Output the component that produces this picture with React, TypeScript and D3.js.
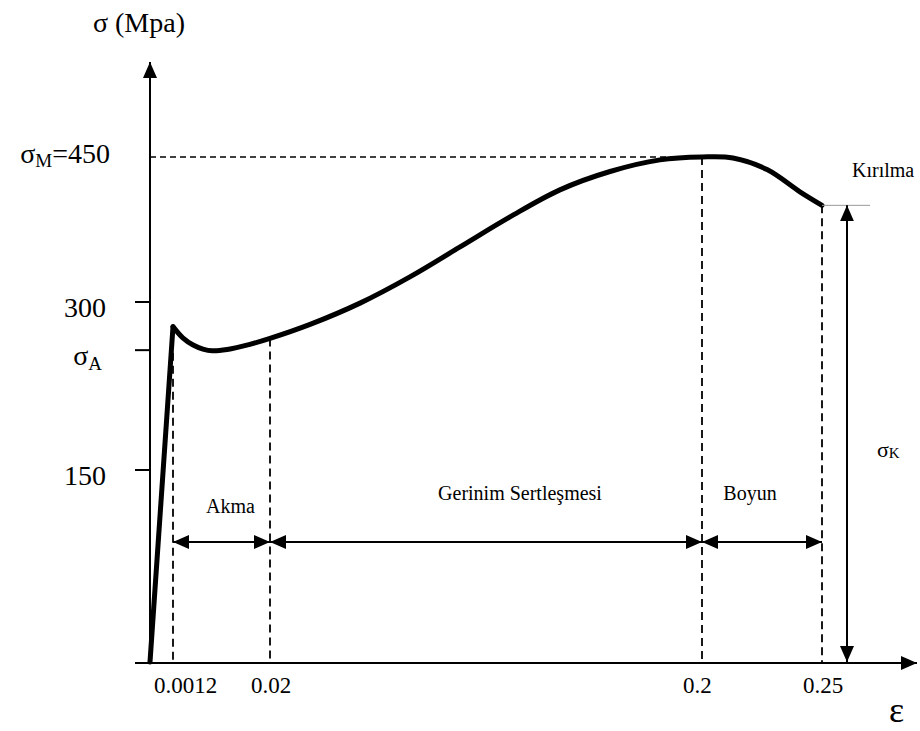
import React from 'react';
import * as d3 from 'd3';

// strain (ε) / stress (σ, MPa) read from the schematic
const curveStrain = [0, 0.0012, 0.0031, 0.0051, 0.007, 0.0088, 0.0117, 0.0161, 0.02, 0.0367, 0.0575, 0.0783, 0.0992, 0.12, 0.1408, 0.1617, 0.1825, 0.2, 0.2129, 0.2271, 0.2408, 0.25];
const curveStress = [0, 278, 268, 261.6, 258, 256.4, 257.6, 262.2, 267.5, 280, 299, 326, 357, 388, 416, 435, 447, 450, 449, 437, 414, 400];

const strainTicks = [0.0012, 0.02, 0.2, 0.25];
const strainTickLabels = ['0.0012', '0.02', '0.2', '0.25'];
const stressTicks = [150, 257, 300];

const sigmaM = 450;
const sigmaA = 257;
const sigmaK = 400;

const regionNames = ['Akma', 'Gerinim Sertleşmesi', 'Boyun'];
const regionFrom = [0.0012, 0.02, 0.2];
const regionTo = [0.02, 0.2, 0.25];

const W = 920;
const H = 731;
const font = '"Liberation Serif", "Times New Roman", serif';
const dimY = 542;
const labelDx = [9, 34, -12];
const labelDy = [-29, -42, -42];

const x = d3.scaleLinear().domain([0, 0.0012, 0.02, 0.2, 0.25]).range([150, 173, 270, 702, 822]);
const y = d3.scaleLinear().domain([0, 150, 300, 450]).range([662, 470, 302, 157]);

const pts: [number, number][] = curveStrain.map((s, i) => [s, curveStress[i]]);

const elastic = d3.line<[number, number]>()
  .x(d => x(d[0]))
  .y(d => y(d[1]))
  .curve(d3.curveLinear);

const plastic = d3.line<[number, number]>()
  .x(d => x(d[0]))
  .y(d => y(d[1]))
  .curve(d3.curveCatmullRom.alpha(0.5));

const stressAt = (s: number) => curveStress[curveStrain.indexOf(s)];

export default function App() {
  const x0 = x(0);
  const y0 = y(0);
  return (
    <svg width={W} height={H} style={{ position: 'absolute', left: 0, top: 0, background: '#fff' }} fontFamily={font}>
      <defs>
        <marker id="arr" viewBox="0 0 16 14" refX={16} refY={7} markerWidth={16} markerHeight={14}
          markerUnits="userSpaceOnUse" orient="auto-start-reverse">
          <path d="M0,0 L16,7 L0,14 Z" fill="#000" />
        </marker>
      </defs>

      {/* dashed guides */}
      <line x1={x0} x2={x(0.2)} y1={y(sigmaM)} y2={y(sigmaM)} stroke="#000" strokeWidth={1.5} strokeDasharray="6,4" />
      {strainTicks.map(s => (
        <line key={s} x1={x(s)} x2={x(s)} y1={y(stressAt(s))} y2={y0} stroke="#000" strokeWidth={1.8} strokeDasharray="8,5" />
      ))}

      {/* axes */}
      <line x1={x0} x2={x0} y1={y0} y2={62} stroke="#000" strokeWidth={2} markerEnd="url(#arr)" />
      <line x1={x0 - 15} x2={917} y1={y0 + 1} y2={y0 + 1} stroke="#000" strokeWidth={2} markerEnd="url(#arr)" />
      {stressTicks.map(v => (
        <line key={v} x1={x0 - 15} x2={x0} y1={y(v)} y2={y(v)} stroke="#000" strokeWidth={2} />
      ))}

      {/* curve */}
      <path d={elastic(pts.slice(0, 2)) || ''} fill="none" stroke="#000" strokeWidth={5} strokeLinecap="round" />
      <path d={plastic(pts.slice(1)) || ''} fill="none" stroke="#000" strokeWidth={5} strokeLinecap="round" strokeLinejoin="round" />

      {/* fracture */}
      <line x1={x(0.25)} x2={x(0.25) + 48} y1={y(sigmaK)} y2={y(sigmaK)} stroke="#999" strokeWidth={1} />
      <line x1={x(0.25) + 25} x2={x(0.25) + 25} y1={y(sigmaK)} y2={y0} stroke="#000" strokeWidth={2}
        markerStart="url(#arr)" markerEnd="url(#arr)" />
      <text x={852} y={177} fontSize={20}>Kırılma</text>
      <text x={877} y={457} fontSize={22}>σ<tspan fontSize={15} dy={1}>K</tspan></text>

      {/* region dimension arrows */}
      {regionNames.map((name, i) => {
        const a = x(regionFrom[i]);
        const b = x(regionTo[i]);
        return (
          <g key={name}>
            <line x1={a} x2={b} y1={dimY} y2={dimY} stroke="#000" strokeWidth={2}
              markerStart="url(#arr)" markerEnd="url(#arr)" />
            <text x={(a + b) / 2 + labelDx[i]} y={dimY + labelDy[i]} fontSize={20} textAnchor="middle">{name}</text>
          </g>
        );
      })}

      {/* y labels */}
      <text x={139} y={32} fontSize={28} textAnchor="middle">σ (Mpa)</text>
      <text x={110} y={163} fontSize={28} textAnchor="end">σ<tspan fontSize={19} dy={4}>M</tspan><tspan dy={-4}>=450</tspan></text>
      <text x={106} y={y(300) + 15} fontSize={28} textAnchor="end">300</text>
      <text x={102} y={y(sigmaA) + 15} fontSize={28} textAnchor="end">σ<tspan fontSize={19} dy={5}>A</tspan></text>
      <text x={106} y={y(150) + 15} fontSize={28} textAnchor="end">150</text>

      {/* x labels */}
      {strainTicks.map((s, i) => (
        <text key={s} x={x(s) - 19} y={693} fontSize={23}>{strainTickLabels[i]}</text>
      ))}
      <text x={889} y={722} fontSize={36}>ε</text>
    </svg>
  );
}
